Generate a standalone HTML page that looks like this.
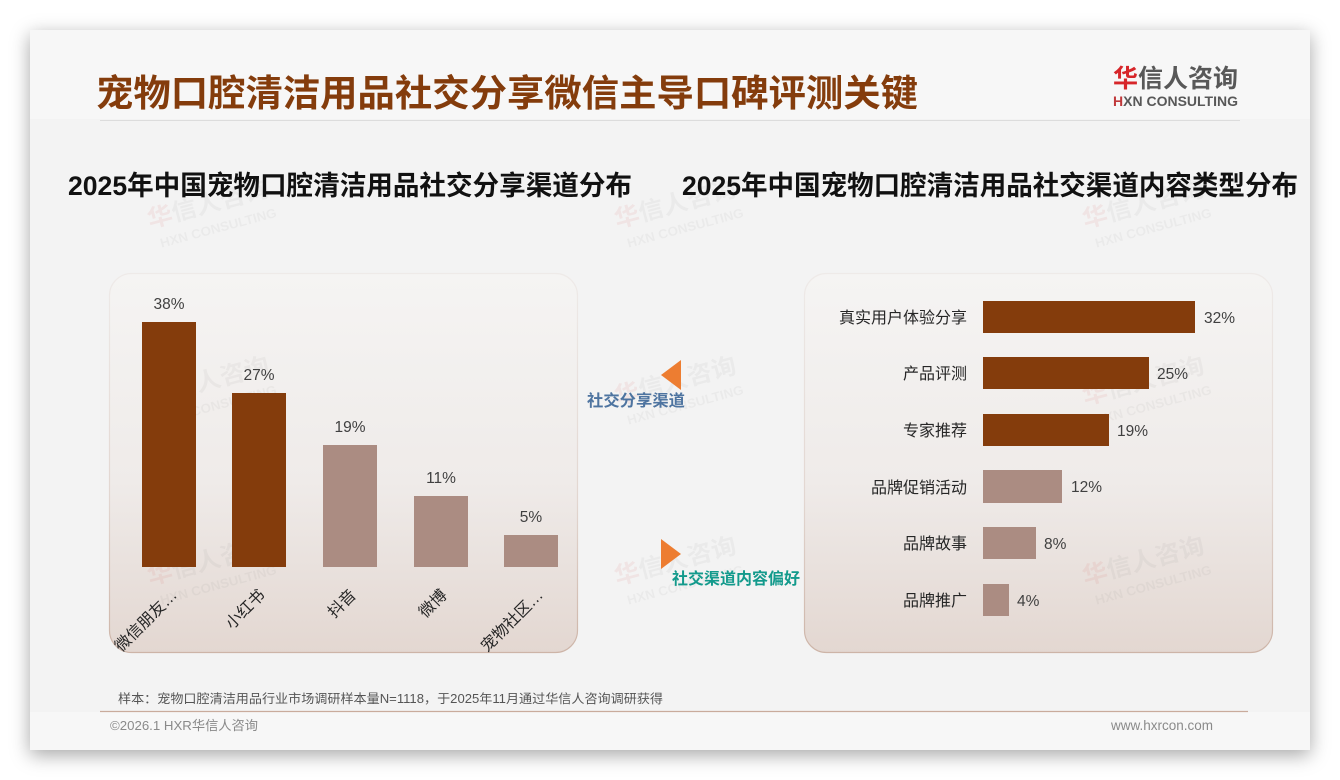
<!DOCTYPE html>
<html lang="zh-CN">
<head>
<meta charset="utf-8">
<style>
  html,body{margin:0;padding:0;background:#ffffff;}
  body{width:1340px;height:780px;position:relative;overflow:hidden;}
  .slide{position:absolute;left:30px;top:30px;width:1280px;height:720px;background:#f3f3f3;box-shadow:0 5px 18px rgba(0,0,0,0.35);}
  svg{position:absolute;left:0;top:0;}
  .cjk{font-family:"Liberation Sans","Noto Sans CJK SC",sans-serif;}
  .lat{font-family:"Liberation Sans",sans-serif;}
</style>
</head>
<body>
<div class="slide"></div>
<svg width="1340" height="780" viewBox="0 0 1340 780" xmlns="http://www.w3.org/2000/svg">
  <defs>
    <linearGradient id="pg" x1="0" y1="0" x2="0" y2="1">
      <stop offset="0" stop-color="#f5f4f3"/>
      <stop offset="0.55" stop-color="#efebe9"/>
      <stop offset="1" stop-color="#e3d7d1"/>
    </linearGradient>
    <linearGradient id="ps" x1="0" y1="0" x2="0" y2="1">
      <stop offset="0" stop-color="#eeeae8"/>
      <stop offset="0.6" stop-color="#e2d6d0"/>
      <stop offset="1" stop-color="#cdb4a7"/>
    </linearGradient>
  </defs>

  <!-- bands -->
  <rect x="30" y="30" width="1280" height="89" fill="#f7f7f7"/>
  <rect x="30" y="712" width="1280" height="38" fill="#f7f7f7"/>

  <!-- title -->
  <text class="cjk" x="96" y="106" font-size="37" font-weight="700" fill="#843c0c" textLength="822" lengthAdjust="spacingAndGlyphs">宠物口腔清洁用品社交分享微信主导口碑评测关键</text>
  <line x1="100" y1="120.5" x2="1240" y2="120.5" stroke="#dcdcdc" stroke-width="1"/>

  <!-- logo -->
  <text class="cjk" x="1113" y="87" font-size="25" font-weight="700" fill="#585858" textLength="125" lengthAdjust="spacingAndGlyphs"><tspan fill="#d7262a">华</tspan>信人咨询</text>
  <text class="lat" x="1113" y="106" font-size="13.5" font-weight="700" fill="#585858" textLength="125" lengthAdjust="spacingAndGlyphs"><tspan fill="#c0393b">H</tspan>XN CONSULTING</text>

  <!-- watermarks -->
  <g class="cjk">
    <g transform="translate(150,228) rotate(-15)">
      <text font-size="24" font-weight="700" fill="#000" fill-opacity="0.035" textLength="125" lengthAdjust="spacingAndGlyphs"><tspan fill="#d03030" fill-opacity="0.07">华</tspan>信人咨询</text>
      <text class="lat" x="6" y="22" font-size="13" font-weight="700" fill="#000" fill-opacity="0.035" textLength="120" lengthAdjust="spacingAndGlyphs">HXN CONSULTING</text>
    </g>
    <g transform="translate(617,228) rotate(-15)">
      <text font-size="24" font-weight="700" fill="#000" fill-opacity="0.035" textLength="125" lengthAdjust="spacingAndGlyphs"><tspan fill="#d03030" fill-opacity="0.07">华</tspan>信人咨询</text>
      <text class="lat" x="6" y="22" font-size="13" font-weight="700" fill="#000" fill-opacity="0.035" textLength="120" lengthAdjust="spacingAndGlyphs">HXN CONSULTING</text>
    </g>
    <g transform="translate(1085,228) rotate(-15)">
      <text font-size="24" font-weight="700" fill="#000" fill-opacity="0.035" textLength="125" lengthAdjust="spacingAndGlyphs"><tspan fill="#d03030" fill-opacity="0.07">华</tspan>信人咨询</text>
      <text class="lat" x="6" y="22" font-size="13" font-weight="700" fill="#000" fill-opacity="0.035" textLength="120" lengthAdjust="spacingAndGlyphs">HXN CONSULTING</text>
    </g>
  </g>

  <!-- chart titles -->
  <text class="cjk" x="68" y="195" font-size="27" font-weight="700" fill="#111111" textLength="564" lengthAdjust="spacingAndGlyphs">2025年中国宠物口腔清洁用品社交分享渠道分布</text>
  <text class="cjk" x="682" y="195" font-size="27" font-weight="700" fill="#111111" textLength="616" lengthAdjust="spacingAndGlyphs">2025年中国宠物口腔清洁用品社交渠道内容类型分布</text>

  <!-- panels -->
  <rect x="109.5" y="273.5" width="468" height="379" rx="22" ry="22" fill="url(#pg)" stroke="url(#ps)" stroke-width="1.2"/>
  <rect x="804.5" y="273.5" width="468" height="379" rx="22" ry="22" fill="url(#pg)" stroke="url(#ps)" stroke-width="1.2"/>

  <g class="cjk">
    <g transform="translate(150,405) rotate(-15)">
      <text font-size="24" font-weight="700" fill="#000" fill-opacity="0.035" textLength="125" lengthAdjust="spacingAndGlyphs"><tspan fill="#d03030" fill-opacity="0.07">华</tspan>信人咨询</text>
      <text class="lat" x="6" y="22" font-size="13" font-weight="700" fill="#000" fill-opacity="0.035" textLength="120" lengthAdjust="spacingAndGlyphs">HXN CONSULTING</text>
    </g>
    <g transform="translate(617,405) rotate(-15)">
      <text font-size="24" font-weight="700" fill="#000" fill-opacity="0.035" textLength="125" lengthAdjust="spacingAndGlyphs"><tspan fill="#d03030" fill-opacity="0.07">华</tspan>信人咨询</text>
      <text class="lat" x="6" y="22" font-size="13" font-weight="700" fill="#000" fill-opacity="0.035" textLength="120" lengthAdjust="spacingAndGlyphs">HXN CONSULTING</text>
    </g>
    <g transform="translate(1085,405) rotate(-15)">
      <text font-size="24" font-weight="700" fill="#000" fill-opacity="0.035" textLength="125" lengthAdjust="spacingAndGlyphs"><tspan fill="#d03030" fill-opacity="0.07">华</tspan>信人咨询</text>
      <text class="lat" x="6" y="22" font-size="13" font-weight="700" fill="#000" fill-opacity="0.035" textLength="120" lengthAdjust="spacingAndGlyphs">HXN CONSULTING</text>
    </g>
    <g transform="translate(150,585) rotate(-15)">
      <text font-size="24" font-weight="700" fill="#000" fill-opacity="0.035" textLength="125" lengthAdjust="spacingAndGlyphs"><tspan fill="#d03030" fill-opacity="0.07">华</tspan>信人咨询</text>
      <text class="lat" x="6" y="22" font-size="13" font-weight="700" fill="#000" fill-opacity="0.035" textLength="120" lengthAdjust="spacingAndGlyphs">HXN CONSULTING</text>
    </g>
    <g transform="translate(617,585) rotate(-15)">
      <text font-size="24" font-weight="700" fill="#000" fill-opacity="0.035" textLength="125" lengthAdjust="spacingAndGlyphs"><tspan fill="#d03030" fill-opacity="0.07">华</tspan>信人咨询</text>
      <text class="lat" x="6" y="22" font-size="13" font-weight="700" fill="#000" fill-opacity="0.035" textLength="120" lengthAdjust="spacingAndGlyphs">HXN CONSULTING</text>
    </g>
    <g transform="translate(1085,585) rotate(-15)">
      <text font-size="24" font-weight="700" fill="#000" fill-opacity="0.035" textLength="125" lengthAdjust="spacingAndGlyphs"><tspan fill="#d03030" fill-opacity="0.07">华</tspan>信人咨询</text>
      <text class="lat" x="6" y="22" font-size="13" font-weight="700" fill="#000" fill-opacity="0.035" textLength="120" lengthAdjust="spacingAndGlyphs">HXN CONSULTING</text>
    </g>
  </g>

  <!-- left chart bars -->
  <rect x="142" y="322" width="54" height="245" fill="#843c0c"/>
  <rect x="232" y="393" width="54" height="174" fill="#843c0c"/>
  <rect x="323" y="445" width="54" height="122" fill="#ab8c82"/>
  <rect x="414" y="496" width="54" height="71" fill="#ab8c82"/>
  <rect x="504" y="535" width="54" height="32" fill="#ab8c82"/>

  <g class="lat" font-size="15.5" fill="#404040" text-anchor="middle">
    <text x="169" y="309">38%</text>
    <text x="259" y="380">27%</text>
    <text x="350" y="432">19%</text>
    <text x="441" y="483">11%</text>
    <text x="531" y="522">5%</text>
  </g>

  <g class="cjk" font-size="16" fill="#262626" text-anchor="end">
    <text transform="translate(178,596) rotate(-45)">微信朋友…</text>
    <text transform="translate(266,596) rotate(-45)">小红书</text>
    <text transform="translate(357,596) rotate(-45)">抖音</text>
    <text transform="translate(448,596) rotate(-45)">微博</text>
    <text transform="translate(544,596) rotate(-45)">宠物社区…</text>
  </g>

  <!-- middle arrows -->
  <polygon points="661,375 681,360 681,390" fill="#ed7d31"/>
  <text class="cjk" x="587" y="406" font-size="16" font-weight="700" fill="#4e74a0" textLength="98" lengthAdjust="spacingAndGlyphs">社交分享渠道</text>
  <polygon points="661,539 681,554 661,569" fill="#ed7d31"/>
  <text class="cjk" x="672" y="584" font-size="16" font-weight="700" fill="#139a8c" textLength="128" lengthAdjust="spacingAndGlyphs">社交渠道内容偏好</text>

  <!-- right chart bars -->
  <rect x="983" y="301" width="212" height="32" fill="#843c0c"/>
  <rect x="983" y="357" width="166" height="32" fill="#843c0c"/>
  <rect x="983" y="414" width="126" height="32" fill="#843c0c"/>
  <rect x="983" y="470" width="79" height="33" fill="#ab8c82"/>
  <rect x="983" y="527" width="53" height="32" fill="#ab8c82"/>
  <rect x="983" y="584" width="26" height="32" fill="#ab8c82"/>

  <g class="cjk" font-size="16" fill="#262626" text-anchor="end">
    <text x="967" y="323">真实用户体验分享</text>
    <text x="967" y="379">产品评测</text>
    <text x="967" y="436">专家推荐</text>
    <text x="967" y="493">品牌促销活动</text>
    <text x="967" y="549">品牌故事</text>
    <text x="967" y="606">品牌推广</text>
  </g>
  <g class="lat" font-size="15.5" fill="#404040">
    <text x="1204" y="323">32%</text>
    <text x="1157" y="379">25%</text>
    <text x="1117" y="436">19%</text>
    <text x="1071" y="492">12%</text>
    <text x="1044" y="549">8%</text>
    <text x="1017" y="606">4%</text>
  </g>

  <!-- footer -->
  <text class="cjk" x="118" y="703" font-size="12.5" fill="#555555" textLength="545" lengthAdjust="spacingAndGlyphs">样本：宠物口腔清洁用品行业市场调研样本量N=1118，于2025年11月通过华信人咨询调研获得</text>
  <line x1="100" y1="711.5" x2="1248" y2="711.5" stroke="#c9ab9c" stroke-width="1.2"/>
  <text class="cjk" x="110" y="730" font-size="13" fill="#8a8a8a" textLength="148" lengthAdjust="spacingAndGlyphs">©2026.1 HXR华信人咨询</text>
  <text class="lat" x="1213" y="730" font-size="13.5" fill="#8a8a8a" text-anchor="end">www.hxrcon.com</text>
</svg>
</body>
</html>
